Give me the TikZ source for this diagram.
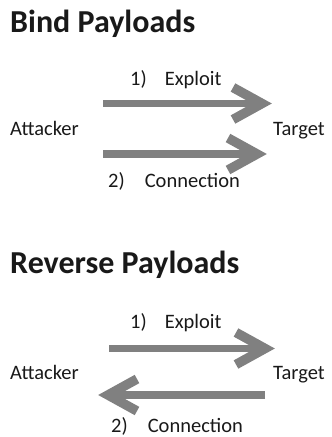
\documentclass[tikz,border=0pt]{standalone}
\usepackage{fontspec}
\setmainfont{Carlito}
\usetikzlibrary{calc}
\definecolor{arrowgray}{RGB}{128,128,128}
\definecolor{inkc}{RGB}{25,25,25}
\tikzset{
  title/.style={anchor=base west, inner sep=0pt, text=inkc, font=\fontsize{32}{36}\selectfont\bfseries},
  lbl/.style={anchor=base west, inner sep=0pt, text=inkc, font=\fontsize{20.5}{24}\selectfont},
  shaft/.style={draw=arrowgray, line width=7.5pt, line cap=butt},
  barb/.style={draw=arrowgray, line width=9.5pt, line cap=butt, line join=miter},
}
\begin{document}
\begin{tikzpicture}[x=1pt,y=-1pt]
\useasboundingbox (0,0) rectangle (332,437);
% Bind
\node[title] (t1) at (10,32) {Bind Payloads};
\node[lbl] (a1) at (10,135) {Attacker};
\node[lbl] (g1) at (273,135) {Target};
\node[lbl] (e1) at (130,85) {1)\hspace{18pt}Exploit};
\node[lbl] (c1) at (108,187) {2)\hspace{20pt}Connection};
\coordinate (b1s) at (103,103.5);
\coordinate (b1e) at (262,103.5);
\draw[shaft] (b1s) -- (b1e);
\draw[barb] ($(b1e)+(-29,-16)$) -- (b1e) -- ($(b1e)+(-29,16)$);
\coordinate (b2s) at (103,154);
\coordinate (b2e) at (257,154);
\draw[shaft] (b2s) -- (b2e);
\draw[barb] ($(b2e)+(-29,-16)$) -- (b2e) -- ($(b2e)+(-29,16)$);
% Reverse
\node[title] (t2) at (10,273) {Reverse Payloads};
\node[lbl] (a2) at (10,379) {Attacker};
\node[lbl] (g2) at (273,379) {Target};
\node[lbl] (e2) at (130,328) {1)\hspace{18pt}Exploit};
\node[lbl] (c2) at (111,432) {2)\hspace{20pt}Connection};
\coordinate (r1s) at (109,348.5);
\coordinate (r1e) at (265,348.5);
\draw[shaft] (r1s) -- (r1e);
\draw[barb] ($(r1e)+(-29,-16)$) -- (r1e) -- ($(r1e)+(-29,16)$);
\coordinate (r2s) at (265,395);
\coordinate (r2e) at (108,395);
\draw[shaft] (r2s) -- (r2e);
\draw[barb] ($(r2e)+(29,-16)$) -- (r2e) -- ($(r2e)+(29,16)$);
\end{tikzpicture}
\end{document}
